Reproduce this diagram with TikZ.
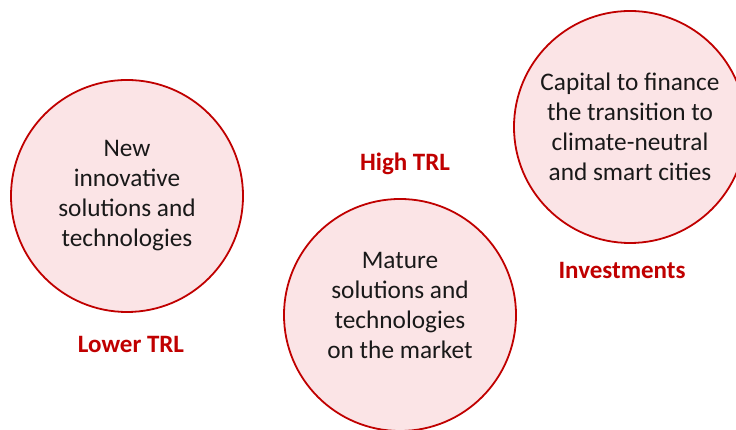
\documentclass[tikz,border=0pt]{standalone}
\usepackage{fontspec}
\setmainfont{Carlito}
\definecolor{trlred}{HTML}{C00000}
\definecolor{bubblefill}{HTML}{FBE4E6}
\tikzset{
  bubble/.style={circle, draw=trlred, line width=1.8pt, fill=bubblefill,
    minimum size=232pt, inner sep=0pt, align=center,
    font=\fontsize{25.3}{30}\selectfont, text=black!90},
  tag/.style={font=\fontsize{25}{30}\selectfont\bfseries, text=trlred}
}
\begin{document}
\begin{tikzpicture}[x=1pt, y=1pt]
% Page frame
\useasboundingbox (0, 0) rectangle (736, 430);
\begin{scope}
\clip (0, 0) rectangle (736, 430);

% The three circles
\node[bubble] (newtech) at (127, 234) {New\\innovative\\solutions and\\technologies};
\node[bubble] (mature) at (400, 115) {};
\node[align=center, font=\fontsize{25.3}{30}\selectfont, text=black!90] (maturetext) at (400, 125) {Mature\\solutions and\\technologies\\on the market};
\node[bubble] (capital) at (630, 303) {Capital to finance\\the transition to\\climate-neutral\\and smart cities};
\end{scope}

% The labels
\node[tag] (lower) at (131, 86) {Lower TRL};
\node[tag] (high) at (405, 266) {High TRL};
\node[tag] (invest) at (622, 160) {Investments};
\end{tikzpicture}
\end{document}
